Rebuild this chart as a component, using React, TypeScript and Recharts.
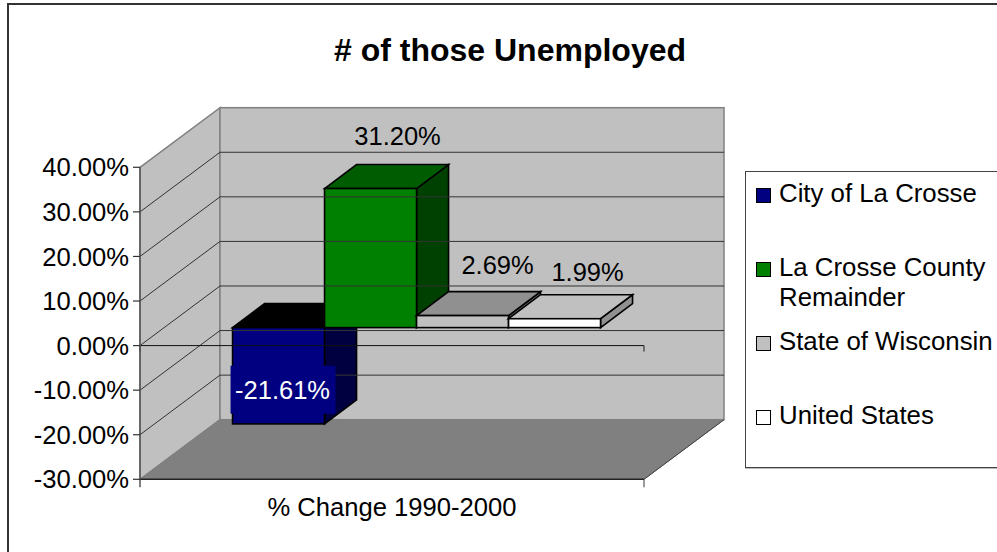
import React from "react";
import { BarChart, Bar, XAxis, YAxis, ReferenceArea, ReferenceLine, LabelList, Legend } from "recharts";

const categories = ["% Change 1990-2000"];
const seriesNames = ["City of La Crosse", "La Crosse County Remainder", "State of Wisconsin", "United States"];
const seriesValues = [-21.61, 31.2, 2.69, 1.99];
const yTicks = [-30, -20, -10, 0, 10, 20, 30, 40];
const gridTicks = [-20, -10, 0, 10, 20, 30];

const frontFills = ["#000080", "#008000", "#c0c0c0", "#ffffff"];
const topFills = ["#000000", "#005c00", "#909090", "#c0c0c0"];
const sideFills = ["#000040", "#004000", "#606060", "#909090"];

const tableRow: Record<string, string | number> = { category: categories[0] };
seriesNames.forEach((n, i) => { tableRow[n] = seriesValues[i]; });
const table = [tableRow];

// projection constants
const WALL_DX = 80, WALL_DY = -59.6;
const BAR_OFF_X = 24, BAR_OFF_Y = -18;
const BAR_DX = 32, BAR_DY = -24;
const FONT = "'Liberation Sans', Arial, sans-serif";
const labelShift = [[4, 14], [27, -53], [35, -51], [33, -47]];

const pct = (v: number) => `${v.toFixed(2)}%`;

const Walls = (p: any) => {
  const { x, y, width: w, height: h } = p;
  const b = y + h, r = x + w;
  return (
    <g>
      <polygon points={`${x},${y} ${x + WALL_DX},${y + WALL_DY} ${x + WALL_DX},${b + WALL_DY} ${x},${b}`} fill="#c0c0c0" stroke="#808080" strokeWidth={1.5} />
      <rect x={x + WALL_DX} y={y + WALL_DY} width={w} height={h} fill="#c0c0c0" stroke="#808080" strokeWidth={1.5} />
      <polygon points={`${x},${b} ${x + WALL_DX},${b + WALL_DY} ${r + WALL_DX},${b + WALL_DY} ${r},${b}`} fill="#808080" stroke="#808080" strokeWidth={1} />
      <line x1={r} y1={b} x2={r + WALL_DX} y2={b + WALL_DY} stroke="#404040" strokeWidth={1} />
      <line x1={x} y1={b} x2={x} y2={b + 8} stroke="#555" strokeWidth={1.5} />
      <line x1={r} y1={b} x2={r} y2={b + 8} stroke="#777" strokeWidth={1.5} />
    </g>
  );
};

const GridLine = (p: any) => {
  const { x1, y1, x2 } = p;
  return (
    <polyline points={`${x1},${y1} ${x1 + WALL_DX},${y1 + WALL_DY} ${x2 + WALL_DX},${y1 + WALL_DY}`} fill="none" stroke="#333" strokeWidth={1} />
  );
};

const ZeroLine = (p: any) => {
  const { x1, y1, x2 } = p;
  return (
    <g>
      <line x1={x1} y1={y1} x2={x2} y2={y1} stroke="#111" strokeWidth={1} />
      <line x1={x2} y1={y1} x2={x2} y2={y1 + 6} stroke="#333" strokeWidth={1.2} />
      <line x1={x1} y1={y1} x2={x1} y2={y1 + 6} stroke="#333" strokeWidth={1.2} />
    </g>
  );
};

const cuboid = (i: number) => (p: any) => {
  const yy = Math.min(p.y, p.y + p.height);
  const hh = Math.abs(p.height);
  const x = p.x + BAR_OFF_X, y = yy + BAR_OFF_Y, w = p.width;
  const sw = 1.6;
  return (
    <g stroke="#000" strokeWidth={sw} strokeLinejoin="miter">
      <polygon points={`${x + w},${y} ${x + w + BAR_DX},${y + BAR_DY} ${x + w + BAR_DX},${y + hh + BAR_DY} ${x + w},${y + hh}`} fill={sideFills[i]} />
      <polygon points={`${x},${y} ${x + BAR_DX},${y + BAR_DY} ${x + w + BAR_DX},${y + BAR_DY} ${x + w},${y}`} fill={topFills[i]} />
      <rect x={x} y={y} width={w} height={hh} fill={frontFills[i]} />
    </g>
  );
};

const barLabel = (i: number) => (p: any) => {
  const vx = p.viewBox ?? p;
  const yTop = Math.min(vx.y, vx.y + vx.height);
  const hh = Math.abs(vx.height);
  const cx = vx.x + BAR_OFF_X + vx.width / 2 + labelShift[i][0];
  const base = yTop + BAR_OFF_Y;
  const cy = i === 0 ? base + hh / 2 + labelShift[i][1] : base + labelShift[i][1];
  return (
    <g>
      {i === 0 && <rect x={cx - 52} y={cy - 24} width={105} height={48} fill="#000080" />}
      <text x={cx} y={cy} textAnchor="middle" dominantBaseline="central" fontFamily={FONT} fontSize={25.5} fill={i === 0 ? "#fff" : "#000"}>
        {pct(seriesValues[i])}
      </text>
    </g>
  );
};

const legendRowY = [195, 269, 343, 417];
const legendTextY = [193, 267, 341, 415];
const LegendBox = (p: any) => {
  const items = p.payload ?? [];
  return (
    <div style={{ position: "absolute", left: 745, top: 171, width: 300, height: 295, border: "1px solid #444", boxShadow: "0 1px 0 #bbb", background: "#fff", fontFamily: FONT, fontSize: 25.8, color: "#000" }}>
      {items.map((it: any, i: number) => (
        <React.Fragment key={it.value}>
          <div style={{ position: "absolute", left: 10, top: legendRowY[i] - 171 - 8, width: 13, height: 13, border: "1.5px solid #000", background: frontFills[i] }} />
          <div style={{ position: "absolute", left: 33, top: legendTextY[i] - 171 - 16, width: 216, lineHeight: "30px", whiteSpace: i === 1 ? "normal" : "nowrap" }}>{it.value}</div>
        </React.Fragment>
      ))}
    </div>
  );
};

export default function App() {
  return (
    <div style={{ position: "absolute", left: 0, top: 0, width: 997, height: 552, overflow: "hidden", background: "#fff" }}>
      <div style={{ position: "absolute", left: 7, top: 3, width: 1100, height: 700, border: "2px solid #333" }} />
      <div style={{ position: "absolute", left: 0, top: 31, width: 1020, textAlign: "center", fontFamily: FONT, fontWeight: 700, fontSize: 32, lineHeight: "38px", color: "#000" }}>
        # of those Unemployed
      </div>
      <BarChart
        width={997}
        height={552}
        data={table}
        barCategoryGap="13.6%"
        barGap={0}
        margin={{ top: 167.3, right: 353, bottom: 0, left: 0 }}
        style={{ position: "absolute", left: 0, top: 0 }}
      >
        <ReferenceArea x1={categories[0]} x2={categories[0]} y1={-30} y2={40} ifOverflow="visible" shape={Walls} />
        {gridTicks.map((t) => (
          <ReferenceLine key={t} y={t} ifOverflow="visible" shape={GridLine} />
        ))}
        <XAxis
          dataKey="category"
          height={72.7}
          axisLine={{ stroke: "#222", strokeWidth: 1.5 }}
          tickLine={false}
          tickMargin={13}
          tick={{ fontFamily: FONT, fontSize: 25.6, fill: "#000" }}
        />
        <YAxis
          type="number"
          domain={[-30, 40]}
          ticks={yTicks}
          width={140}
          interval={0}
          tickFormatter={pct}
          axisLine={{ stroke: "#555", strokeWidth: 1.5 }}
          tickLine={{ stroke: "#333", strokeWidth: 1.2 }}
          tickSize={7}
          tickMargin={4}
          tick={{ fontFamily: FONT, fontSize: 25.6, fill: "#000" }}
        />
        <Legend layout="vertical" align="right" verticalAlign="top" content={LegendBox} wrapperStyle={{ position: "absolute", left: 0, top: 0, width: 0, height: 0, overflow: "visible" }} />
        {seriesNames.map((n, i) => (
          <Bar key={n} dataKey={n} fill={frontFills[i]} isAnimationActive={false} shape={cuboid(i)}>
            <LabelList dataKey={n} content={barLabel(i)} />
          </Bar>
        ))}
        <ReferenceLine y={0} ifOverflow="visible" shape={ZeroLine} />
      </BarChart>
    </div>
  );
}
